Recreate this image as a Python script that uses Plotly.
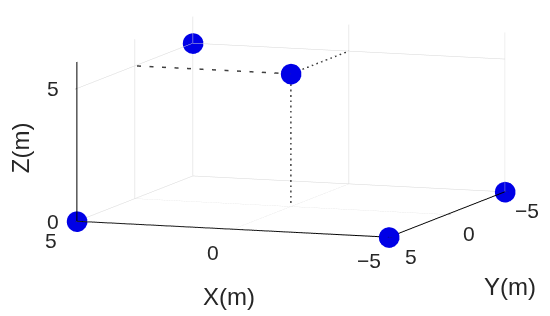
import plotly.graph_objects as go

# marker positions (m)
pts_x = [5, -5, -5, 5, 0]
pts_y = [5, 5, -5, -5, 0]
pts_z = [0, 0, 0, 5, 5]

# dashed guide lines from the centre point to the floor and the two walls
guide_x = [0, 0, None, 0, 5, None, 0, 0]
guide_y = [0, 0, None, 0, 0, None, 0, -5]
guide_z = [5, 0, None, 5, 5, None, 5, 5]

x_ticks = [5, 0, -5]
y_ticks = [5, 0, -5]
z_ticks = [0, 5]

TXT = "#262626"
TICK_FONT = dict(family="Liberation Sans, Arial, sans-serif", size=21, color=TXT)
TITLE_FONT = dict(family="Liberation Sans, Arial, sans-serif", size=24, color=TXT)


def lbl(v):
    return str(v).replace("-", "\u2212")


fig = go.Figure()
fig.add_trace(go.Scatter3d(
    x=guide_x, y=guide_y, z=guide_z, mode="lines",
    line=dict(color="#404040", width=3, dash="dash"),
    hoverinfo="skip", showlegend=False,
))
fig.add_trace(go.Scatter3d(
    x=pts_x, y=pts_y, z=pts_z, mode="markers",
    marker=dict(size=12, color="#0000e6", line=dict(width=0)),
    showlegend=False,
))


def axis(rng, ticks):
    return dict(
        title=dict(text=""), range=rng, tickvals=ticks, showticklabels=False,
        showbackground=False, gridcolor="#d6d6d6", gridwidth=1,
        showline=True, linecolor="#000000", linewidth=2, zeroline=False,
        showspikes=False, ticks="inside", ticklen=4, tickcolor=TXT,
    )


# tick labels placed next to the axis lines, MATLAB style
tick_ann = []
for v in x_ticks:
    tick_ann.append(dict(x=v, y=5, z=0, text=lbl(v), showarrow=False,
                         xshift=-26 if v == 5 else -20, yshift=-19 if v == 5 else -23,
                         font=TICK_FONT))
for v in y_ticks:
    tick_ann.append(dict(x=-5, y=v, z=0, text=lbl(v), showarrow=False,
                         xshift=22, yshift=-19, font=TICK_FONT))
for v in z_ticks:
    tick_ann.append(dict(x=5, y=5, z=v, text=lbl(v), showarrow=False,
                         xshift=-24, yshift=0, font=TICK_FONT))


def title(text, x, y, angle=0):
    return dict(text=text, x=x, y=y, xref="paper", yref="paper", xanchor="center",
                yanchor="middle", textangle=angle, showarrow=False, font=TITLE_FONT)


S = 2.1
CENTER = (0.047, 0.017, -0.25)
VIEW = (-0.336 * 1.6, 0.931 * 1.6, 0.141 * 1.6)
fig.update_layout(
    width=550, height=316, paper_bgcolor="white",
    margin=dict(l=0, r=0, t=0, b=0),
    scene=dict(
        xaxis=axis([-5, 5], x_ticks),
        yaxis=axis([-5, 5], y_ticks),
        zaxis=axis([0, 6], z_ticks),
        aspectmode="manual", aspectratio=dict(x=1 * S, y=1.03 * S, z=0.485 * S),
        camera=dict(
            projection=dict(type="orthographic"),
            center=dict(x=CENTER[0], y=CENTER[1], z=CENTER[2]),
            eye=dict(x=CENTER[0] + VIEW[0], y=CENTER[1] + VIEW[1], z=CENTER[2] + VIEW[2]),
            up=dict(x=0, y=0, z=1),
        ),
        annotations=tick_ann,
    ),
    annotations=[
        title("X(m)", 0.402, 0.088),
        title("Y(m)", 0.912, 0.12),
        title("Z(m)", 0.024, 0.557, -90),
    ],
)

fig.write_html("out.html", config=dict(displayModeBar=False))
